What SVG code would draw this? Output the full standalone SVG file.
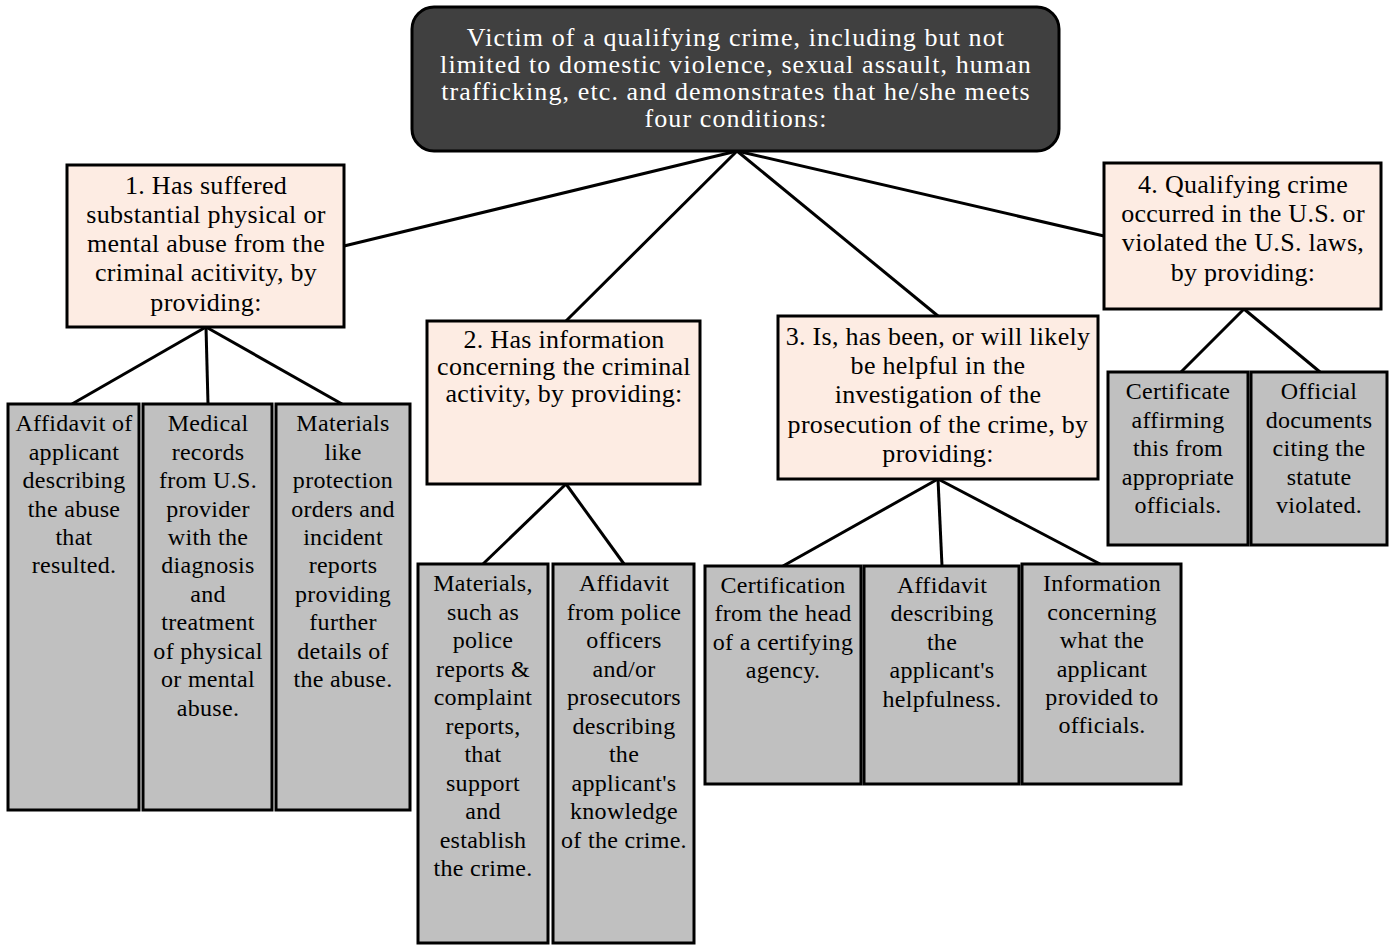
<svg xmlns="http://www.w3.org/2000/svg" width="1389" height="945" viewBox="0 0 1389 945" font-family="'Liberation Serif', 'Times New Roman', serif">
<style>
.root{fill:#404040;stroke:#000;stroke-width:3}
.cond{fill:#fdece3;stroke:#000;stroke-width:3}
.leaf{fill:#c0c0c0;stroke:#000;stroke-width:3}
.conn line{stroke:#000;stroke-width:3}
.rt{font-family:'Liberation Serif','Times New Roman',serif;text-anchor:middle;fill:#fff;font-size:26px;letter-spacing:1.1px}
.ct{font-family:'Liberation Serif','Times New Roman',serif;text-anchor:middle;fill:#000;font-size:26px;letter-spacing:0.3px}
.lt{font-family:'Liberation Serif','Times New Roman',serif;text-anchor:middle;fill:#000;font-size:24px;letter-spacing:0.3px}
</style>
<rect width="1389" height="945" fill="#fff"/>
<g id="connectors" class="conn">
<line x1="737" y1="151" x2="344" y2="246"/>
<line x1="737" y1="151" x2="566" y2="321"/>
<line x1="737" y1="151" x2="938" y2="316"/>
<line x1="737" y1="151" x2="1104" y2="236"/>
<line x1="206" y1="327" x2="72" y2="404"/>
<line x1="206" y1="327" x2="208" y2="404"/>
<line x1="206" y1="327" x2="342" y2="404"/>
<line x1="566" y1="484" x2="483" y2="564"/>
<line x1="566" y1="484" x2="624" y2="564"/>
<line x1="938" y1="479" x2="783" y2="566"/>
<line x1="938" y1="479" x2="942" y2="566"/>
<line x1="938" y1="479" x2="1100" y2="564"/>
<line x1="1244" y1="309" x2="1181" y2="372"/>
<line x1="1244" y1="309" x2="1320" y2="372"/>
</g>
<g id="root">
<rect class="root" x="412" y="7" width="647" height="144" rx="22"/>
<text class="rt" font-family="'Liberation Serif', serif"><tspan x="736" y="46">Victim of a qualifying crime, including but not</tspan><tspan x="736" y="73">limited to domestic violence, sexual assault, human</tspan><tspan x="736" y="100">trafficking, etc. and  demonstrates that he/she meets</tspan><tspan x="736" y="127">four conditions:</tspan></text>
</g>
<g id="cond1">
<rect class="cond" x="67" y="165" width="277" height="162"/>
<text class="ct" font-family="'Liberation Serif', serif"><tspan x="206" y="194">1. Has suffered</tspan><tspan x="206" y="223">substantial physical or</tspan><tspan x="206" y="252">mental abuse from the</tspan><tspan x="206" y="281">criminal acitivity, by</tspan><tspan x="206" y="311">providing:</tspan></text>
</g>
<g id="cond2">
<rect class="cond" x="427" y="321" width="273" height="163"/>
<text class="ct" font-family="'Liberation Serif', serif"><tspan x="564" y="348">2. Has information</tspan><tspan x="564" y="375">concerning the criminal</tspan><tspan x="564" y="402">activity, by providing:</tspan></text>
</g>
<g id="cond3">
<rect class="cond" x="778" y="316" width="320" height="163"/>
<text class="ct" font-family="'Liberation Serif', serif"><tspan x="938" y="345">3. Is, has been, or will likely</tspan><tspan x="938" y="374">be helpful in the</tspan><tspan x="938" y="403">investigation of the</tspan><tspan x="938" y="433">prosecution of the crime, by</tspan><tspan x="938" y="462">providing:</tspan></text>
</g>
<g id="cond4">
<rect class="cond" x="1104" y="163" width="277" height="146"/>
<text class="ct" font-family="'Liberation Serif', serif"><tspan x="1243" y="193">4. Qualifying crime</tspan><tspan x="1243" y="222">occurred in the U.S. or</tspan><tspan x="1243" y="251">violated the U.S. laws,</tspan><tspan x="1243" y="281">by providing:</tspan></text>
</g>
<g id="leaf1">
<rect class="leaf" x="8" y="404" width="131" height="406"/>
<text class="lt" font-family="'Liberation Serif', serif"><tspan x="74" y="431">Affidavit of</tspan><tspan x="74" y="460">applicant</tspan><tspan x="74" y="488">describing</tspan><tspan x="74" y="517">the abuse</tspan><tspan x="74" y="545">that</tspan><tspan x="74" y="573">resulted.</tspan></text>
</g>
<g id="leaf2">
<rect class="leaf" x="143" y="404" width="129" height="406"/>
<text class="lt" font-family="'Liberation Serif', serif"><tspan x="208" y="431">Medical</tspan><tspan x="208" y="460">records</tspan><tspan x="208" y="488">from U.S.</tspan><tspan x="208" y="517">provider</tspan><tspan x="208" y="545">with the</tspan><tspan x="208" y="573">diagnosis</tspan><tspan x="208" y="602">and</tspan><tspan x="208" y="630">treatment</tspan><tspan x="208" y="659">of physical</tspan><tspan x="208" y="687">or mental</tspan><tspan x="208" y="716">abuse.</tspan></text>
</g>
<g id="leaf3">
<rect class="leaf" x="276" y="404" width="134" height="406"/>
<text class="lt" font-family="'Liberation Serif', serif"><tspan x="343" y="431">Materials</tspan><tspan x="343" y="460">like</tspan><tspan x="343" y="488">protection</tspan><tspan x="343" y="517">orders and</tspan><tspan x="343" y="545">incident</tspan><tspan x="343" y="573">reports</tspan><tspan x="343" y="602">providing</tspan><tspan x="343" y="630">further</tspan><tspan x="343" y="659">details of</tspan><tspan x="343" y="687">the abuse.</tspan></text>
</g>
<g id="leaf4">
<rect class="leaf" x="418" y="564" width="130" height="379"/>
<text class="lt" font-family="'Liberation Serif', serif"><tspan x="483" y="591">Materials,</tspan><tspan x="483" y="620">such as</tspan><tspan x="483" y="648">police</tspan><tspan x="483" y="677">reports &amp;</tspan><tspan x="483" y="705">complaint</tspan><tspan x="483" y="734">reports,</tspan><tspan x="483" y="762">that</tspan><tspan x="483" y="791">support</tspan><tspan x="483" y="819">and</tspan><tspan x="483" y="848">establish</tspan><tspan x="483" y="876">the crime.</tspan></text>
</g>
<g id="leaf5">
<rect class="leaf" x="553" y="564" width="141" height="379"/>
<text class="lt" font-family="'Liberation Serif', serif"><tspan x="624" y="591">Affidavit</tspan><tspan x="624" y="620">from police</tspan><tspan x="624" y="648">officers</tspan><tspan x="624" y="677">and/or</tspan><tspan x="624" y="705">prosecutors</tspan><tspan x="624" y="734">describing</tspan><tspan x="624" y="762">the</tspan><tspan x="624" y="791">applicant's</tspan><tspan x="624" y="819">knowledge</tspan><tspan x="624" y="848">of the crime.</tspan></text>
</g>
<g id="leaf6">
<rect class="leaf" x="705" y="566" width="156" height="218"/>
<text class="lt" font-family="'Liberation Serif', serif"><tspan x="783" y="593">Certification</tspan><tspan x="783" y="621">from the head</tspan><tspan x="783" y="650">of a certifying</tspan><tspan x="783" y="678">agency.</tspan></text>
</g>
<g id="leaf7">
<rect class="leaf" x="864" y="566" width="155" height="218"/>
<text class="lt" font-family="'Liberation Serif', serif"><tspan x="942" y="593">Affidavit</tspan><tspan x="942" y="621">describing</tspan><tspan x="942" y="650">the</tspan><tspan x="942" y="678">applicant's</tspan><tspan x="942" y="707">helpfulness.</tspan></text>
</g>
<g id="leaf8">
<rect class="leaf" x="1022" y="564" width="159" height="220"/>
<text class="lt" font-family="'Liberation Serif', serif"><tspan x="1102" y="591">Information</tspan><tspan x="1102" y="620">concerning</tspan><tspan x="1102" y="648">what the</tspan><tspan x="1102" y="677">applicant</tspan><tspan x="1102" y="705">provided to</tspan><tspan x="1102" y="733">officials.</tspan></text>
</g>
<g id="leaf9">
<rect class="leaf" x="1108" y="372" width="140" height="173"/>
<text class="lt" font-family="'Liberation Serif', serif"><tspan x="1178" y="399">Certificate</tspan><tspan x="1178" y="428">affirming</tspan><tspan x="1178" y="456">this from</tspan><tspan x="1178" y="485">appropriate</tspan><tspan x="1178" y="513">officials.</tspan></text>
</g>
<g id="leaf10">
<rect class="leaf" x="1251" y="372" width="136" height="173"/>
<text class="lt" font-family="'Liberation Serif', serif"><tspan x="1319" y="399">Official</tspan><tspan x="1319" y="428">documents</tspan><tspan x="1319" y="456">citing the</tspan><tspan x="1319" y="485">statute</tspan><tspan x="1319" y="513">violated.</tspan></text>
</g>
</svg>
